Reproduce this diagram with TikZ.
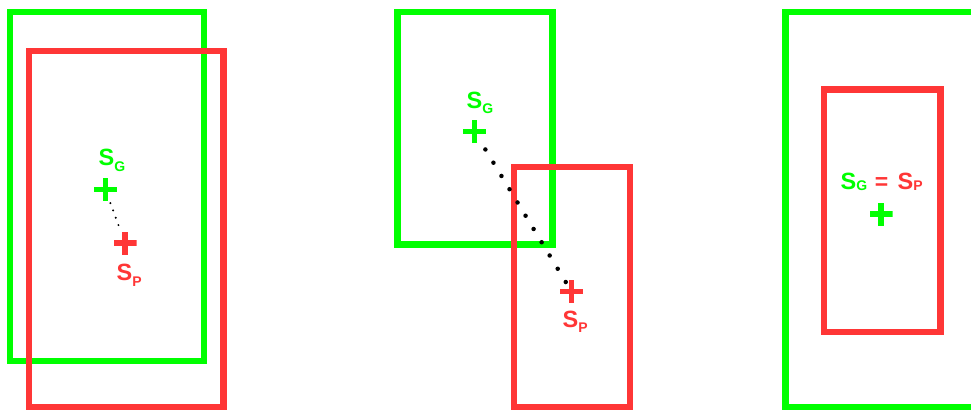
\documentclass[tikz,border=0pt]{standalone}
\usepackage{fontspec}
\setmainfont{Liberation Sans}
\definecolor{gr}{HTML}{00FF00}
\definecolor{rd}{HTML}{FF3636}
\newcommand{\bigS}{{\fontsize{23.5}{23.5}\selectfont\bfseries S}}
\newcommand{\subl}[2]{\raisebox{#1}{\fontsize{14}{14}\selectfont\bfseries #2}}
\begin{document}
\begin{tikzpicture}[x=1pt,y=-1pt,
  box/.style={draw=#1,line width=6.6pt},
  crs/.style={minimum size=23pt,inner sep=0pt,outer sep=0pt,
    path picture={\fill[#1] ([yshift=-2.6pt]path picture bounding box.west) rectangle ([yshift=2.6pt]path picture bounding box.east);
                  \fill[#1] ([xshift=-2.6pt]path picture bounding box.north) rectangle ([xshift=2.6pt]path picture bounding box.south);}},
  lbl/.style={anchor=base west,inner sep=0pt,text=#1}]
\useasboundingbox (0,0) rectangle (971,410);
% panel 1
\draw[box=gr] (10,12) rectangle (204,361);
\draw[box=rd] (29,51) rectangle (223.5,407);
\node[crs=gr] (g1) at (105.5,189.5) {};
\node[crs=rd] (r1) at (125,243) {};
\draw[line width=2.2pt,line cap=round,dash pattern=on 0pt off 7.8pt,shorten <=14.5pt,shorten >=19pt] (g1.center) -- (r1.center);
\node[lbl=gr] (lg1) at (98.5,165) {\bigS\subl{-6.5pt}{G}};
\node[lbl=rd] (lp1) at (116.5,280) {\bigS\subl{-6.5pt}{P}};
% panel 2
\draw[box=gr] (397.5,12) rectangle (552.5,244.5);
\draw[box=rd] (514,167) rectangle (630,407);
\node[crs=gr] (g2) at (474.5,131.5) {};
\node[crs=rd] (r2) at (571.5,291.5) {};
\draw[line width=4.5pt,line cap=round,dash pattern=on 0pt off 15.5pt,shorten <=21pt,shorten >=9.5pt] (g2.center) -- (r2.center);
\node[lbl=gr] (lg2) at (466.5,108) {\bigS\subl{-5.5pt}{G}};
\node[lbl=rd] (lp2) at (562.5,327) {\bigS\subl{-5.5pt}{P}};
% panel 3
\draw[box=gr] (785.5,12) rectangle (990,407);
\draw[box=rd] (824,89.5) rectangle (940.5,332);
\node[crs=gr] (g3) at (881,214) {};
\node[lbl=gr] (lg3) at (840.5,189) {\bigS\subl{-1pt}{G}};
\node[lbl=rd,anchor=base] (eq3) at (881.5,189) {\fontsize{23}{23}\selectfont\bfseries =};
\node[lbl=rd] (lp3) at (897.5,189) {\bigS\subl{-1pt}{P}};
\end{tikzpicture}
\end{document}
